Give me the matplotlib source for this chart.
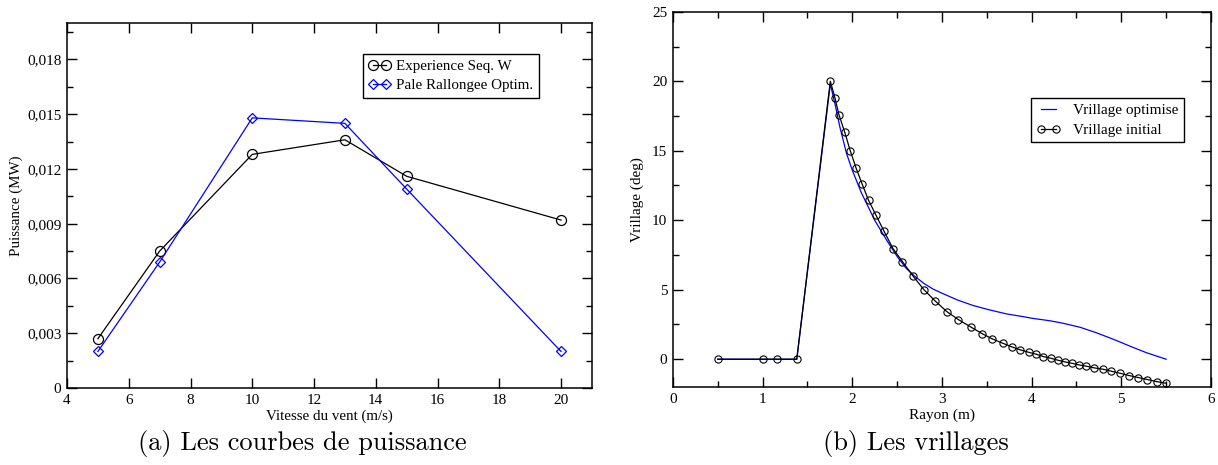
import numpy as np
import matplotlib
matplotlib.use('Agg')
import matplotlib.pyplot as plt
from matplotlib.ticker import FixedLocator, MultipleLocator, FuncFormatter

plt.rcParams['font.family'] = 'serif'
plt.rcParams['font.serif'] = ['Liberation Serif', 'DejaVu Serif']

# (a) power curves
wind_speed = [5, 7, 10, 13, 15, 20]
power_exp = [0.0027, 0.0075, 0.0128, 0.0136, 0.0116, 0.0092]
power_opt = [0.0020, 0.0069, 0.0148, 0.0145, 0.0109, 0.0020]
power_ticks = [0, 0.003, 0.006, 0.009, 0.012, 0.015, 0.018]

# (b) twist distributions
r_init = [0.5, 1.0, 1.155, 1.381, 1.755,
          1.807, 1.851, 1.916, 1.977, 2.042, 2.111, 2.181, 2.263, 2.350, 2.454,
          2.559, 2.676, 2.798, 2.923, 3.054, 3.184, 3.319, 3.445, 3.562, 3.679,
          3.779, 3.875, 3.966, 4.053, 4.131, 4.214, 4.292, 4.370, 4.448, 4.527,
          4.609, 4.696, 4.796, 4.887, 4.987, 5.091, 5.191, 5.291, 5.395, 5.50]
twist_init = [0, 0, 0, 0, 20.0,
              18.8, 17.6, 16.33, 15.01, 13.76, 12.59, 11.44, 10.38, 9.26, 7.96,
              7.03, 6.0, 5.01, 4.20, 3.43, 2.85, 2.33, 1.85, 1.46, 1.15,
              0.89, 0.67, 0.50, 0.36, 0.19, 0.07, -0.07, -0.19, -0.29, -0.41,
              -0.50, -0.62, -0.72, -0.86, -1.01, -1.18, -1.32, -1.46, -1.61, -1.73]
r_opt = [0.5, 1.381, 1.755, 1.806, 1.862, 1.936, 2.0, 2.1, 2.16, 2.25, 2.38,
         2.5, 2.6, 2.7, 2.8, 2.9, 3.0, 3.17, 3.35, 3.53, 3.72, 3.9, 4.0, 4.2,
         4.35, 4.54, 4.72, 4.91, 5.09, 5.28, 5.5]
twist_opt = [0, 0, 19.8, 18.4, 16.7, 14.8, 13.6, 12.0, 11.2, 10.0, 8.6,
             7.4, 6.55, 5.95, 5.45, 5.05, 4.75, 4.27, 3.86, 3.55, 3.26, 3.07, 2.95, 2.77,
             2.59, 2.30, 1.91, 1.44, 0.96, 0.47, 0.0]


def style_axes(ax):
    ax.tick_params(which='both', direction='in', top=True, right=True, labelsize=11, pad=4)
    ax.tick_params(which='major', length=7.5, width=1.0)
    ax.tick_params(which='minor', length=4.3, width=1.0)
    for sp in ax.spines.values():
        sp.set_linewidth(1.1)


fig = plt.figure(figsize=(12.18, 4.65), dpi=100)

ax = fig.add_axes([0.055, 0.1656, 0.431, 0.785])
ax.plot(wind_speed, power_exp, color='black', lw=0.9, marker='o', ms=7.2,
        mfc='none', mec='black', mew=0.9, label='Experience Seq. W')
ax.plot(wind_speed, power_opt, color='blue', lw=0.9, marker='D', ms=5.2,
        mfc='none', mec='blue', mew=0.9, label='Pale Rallongee Optim.')
ax.set_xlim(4, 21)
ax.set_ylim(0, 0.02)
ax.xaxis.set_major_locator(FixedLocator(np.arange(4, 21, 2)))
ax.yaxis.set_major_locator(FixedLocator(power_ticks))
ax.yaxis.set_minor_locator(MultipleLocator(0.0015))
ax.yaxis.set_major_formatter(FuncFormatter(
    lambda v, p: '0' if abs(v) < 1e-9 else f'{v:.3f}'.replace('.', ',')))
ax.set_xlabel('Vitesse du vent (m/s)', fontsize=10.8, labelpad=2)
ax.set_ylabel('Puissance (MW)', fontsize=10.8, labelpad=3)
style_axes(ax)
leg = ax.legend(loc='upper left', bbox_to_anchor=(0.55, 0.935), fontsize=10.8,
                numpoints=2, handlelength=1.5, handletextpad=0.35,
                borderpad=0.35, labelspacing=0.4, fancybox=False,
                edgecolor='black', framealpha=1)
leg.get_frame().set_linewidth(1.0)

ax2 = fig.add_axes([0.5525, 0.1677, 0.4417, 0.807])
ax2.plot(r_opt, twist_opt, color='blue', lw=0.9, label='Vrillage optimise')
ax2.plot(r_init, twist_init, color='black', lw=0.9, marker='o', ms=5.2,
         mfc='none', mec='black', mew=0.8, label='Vrillage initial')
ax2.set_xlim(0, 6)
ax2.set_ylim(-2, 25)
ax2.xaxis.set_major_locator(MultipleLocator(1))
ax2.xaxis.set_minor_locator(MultipleLocator(0.5))
ax2.yaxis.set_major_locator(MultipleLocator(5))
ax2.yaxis.set_minor_locator(MultipleLocator(2.5))
ax2.set_xlabel('Rayon (m)', fontsize=11, labelpad=2)
ax2.set_ylabel('Vrillage (deg)', fontsize=11, labelpad=6)
style_axes(ax2)
leg2 = ax2.legend(loc='upper left', bbox_to_anchor=(0.651, 0.79), fontsize=11,
                  numpoints=2, handlelength=1.6, handletextpad=0.8,
                  borderpad=0.35, labelspacing=0.4, fancybox=False,
                  edgecolor='black', framealpha=1)
leg2.get_frame().set_linewidth(1.0)

fig.text(0.248, 0.047, '(a) Les courbes de puissance', fontsize=19,
         family='cmr10', ha='center', va='center')
fig.text(0.752, 0.047, '(b) Les vrillages', fontsize=19,
         family='cmr10', ha='center', va='center')

fig.savefig('out.png', dpi=100)
